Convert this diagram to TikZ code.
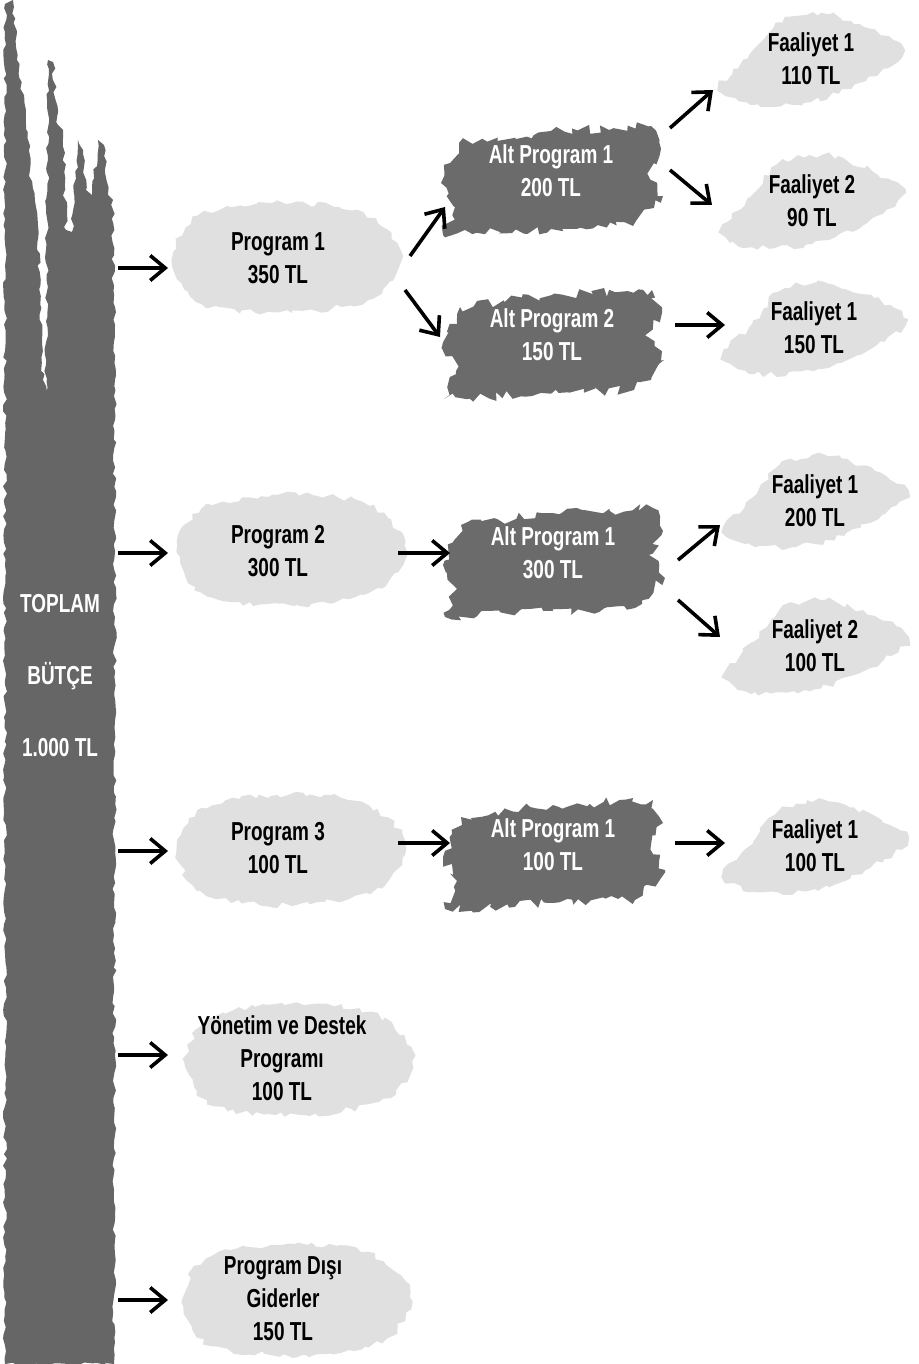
\documentclass[tikz,border=0pt]{standalone}
\usepackage{fontspec}
\setmainfont{Liberation Sans}[FakeStretch=0.73,UprightFont=* Bold]
\usetikzlibrary{arrows.meta,decorations.pathmorphing,calc,backgrounds}
\pgfmathsetseed{7}
\tikzset{
  lbl/.style={align=center,inner sep=0pt,text=black,font=\fontsize{13}{16.5}\selectfont},
  wlbl/.style={lbl,text=white},
  arr/.style={line width=1.8pt,-{Straight Barb[length=7.5pt,width=12.5pt]}},
  lightblob/.style={fill=black!12,decorate,decoration={random steps,segment length=3pt,amplitude=1.5pt}},
  darkblob/.style={fill=black!58,decorate,decoration={random steps,segment length=3pt,amplitude=2.5pt}},
  colblob/.style={fill=black!60,decorate,decoration={random steps,segment length=3pt,amplitude=1pt}}
}
\newcommand\softblob[1]{%
  \begin{scope}[shift={(#1)}]
    \fill[lightblob] plot[smooth cycle] coordinates {(-110,2) (-85,-42) (-10,-55) (75,-48) (118,-8) (95,38) (10,55) (-80,46)};
  \end{scope}}
\newcommand\leafblob[1]{%
  \begin{scope}[shift={(#1)}]
    \fill[lightblob] plot[smooth cycle] coordinates {(-92,30) (-62,-4) (-35,-36) (10,-46) (60,-30) (93,-8) (55,22) (0,43) (-60,46)};
  \end{scope}}
\newcommand\brushblob[1]{%
  \begin{scope}[shift={(#1)}]
    \fill[darkblob] (-92,-28) -- (0,-40) -- (100,-45) -- (110,-22) -- (96,2) -- (112,25) -- (82,55) -- (0,58) -- (-108,64) -- (-96,36) -- (-110,12) -- cycle;
  \end{scope}}
\begin{document}
\begin{tikzpicture}[x=0.5pt,y=-0.5pt]
\useasboundingbox (0,0) rectangle (918,1364);

% left column
\fill[colblob] (5,1364) -- (5,4) -- (13,0) -- (17,60) -- (26,110) -- (30,170) -- (38,225) -- (43,380) -- (46,395)
  -- (48,60) -- (53,62) -- (58,125) -- (63,130) -- (66,230) -- (72,232) -- (78,140) -- (83,150) -- (86,190)
  -- (92,195) -- (98,140) -- (104,145) -- (108,195) -- (113,200) -- (115,420) -- (114,1364) -- cycle;

% nodes
\node[wlbl,minimum width=55pt,font=\fontsize{13}{36}\selectfont] (total) at (60,676) {TOPLAM\\BÜTÇE\\1.000 TL};

\node[lbl] (p1) at (278,258) {Program 1\\350 TL};
\node[lbl] (p2) at (278,551) {Program 2\\300 TL};
\node[lbl] (p3) at (278,848) {Program 3\\100 TL};
\node[lbl] (yon) at (282,1058) {Yönetim ve Destek\\Programı\\100 TL};
\node[lbl] (pd) at (283,1299) {Program Dışı\\Giderler\\150 TL};

\node[wlbl] (a11) at (551,171) {Alt Program 1\\200 TL};
\node[wlbl] (a12) at (552,335) {Alt Program 2\\150 TL};
\node[wlbl] (a21) at (553,553) {Alt Program 1\\300 TL};
\node[wlbl] (a31) at (553,845) {Alt Program 1\\100 TL};

\node[lbl] (f1) at (811,59) {Faaliyet 1\\110 TL};
\node[lbl] (f2) at (812,201) {Faaliyet 2\\90 TL};
\node[lbl] (f3) at (814,328) {Faaliyet 1\\150 TL};
\node[lbl] (f4) at (815,501) {Faaliyet 1\\200 TL};
\node[lbl] (f5) at (815,646) {Faaliyet 2\\100 TL};
\node[lbl] (f6) at (815,846) {Faaliyet 1\\100 TL};

% background blobs
\begin{scope}[on background layer]
  \softblob{282,258}
  \softblob{287,550}
  \softblob{287,850}
  \softblob{295,1060}
  \softblob{292,1300}
  \brushblob{a11}
  \brushblob{a12}
  \brushblob{a21}
  \brushblob{a31}
  \leafblob{f1}
  \leafblob{f2}
  \leafblob{f3}
  \leafblob{f4}
  \leafblob{f5}
  \leafblob{f6}
\end{scope}

% connectors from the total column
\draw[arr] ($(total.east |- p1)+(3,10)$) -- ($(p1.center)+(-110,10)$);
\draw[arr] ($(total.east |- p2)+(3,2)$) -- ($(p2.center)+(-110,2)$);
\draw[arr] ($(total.east |- p3)+(3,3)$) -- ($(p3.center)+(-110,3)$);
\draw[arr] ($(total.east |- yon)+(3,-3)$) -- ($(yon.center)+(-114,-3)$);
\draw[arr] ($(total.east |- pd)+(3,1)$) -- ($(pd.center)+(-115,1)$);

% program -> alt program
\draw[arr] ($(p1.center)+(132,-2)$) -- ($(a11.center)+(-106,36)$);
\draw[arr] ($(p1.center)+(127,32)$) -- ($(a12.center)+(-112,2)$);
\draw[arr] ($(p2.center)+(120,2)$) -- ($(a21.center)+(-103,0)$);
\draw[arr] ($(p3.center)+(120,-5)$) -- ($(a31.center)+(-103,-2)$);

% alt program -> faaliyet
\draw[arr] ($(a11.center)+(119,-43)$) -- ($(f1.center)+(-98,31)$);
\draw[arr] ($(a11.center)+(119,-1)$) -- ($(f2.center)+(-100,4)$);
\draw[arr] ($(a12.center)+(123,-10)$) -- ($(f3.center)+(-89,-3)$);
\draw[arr] ($(a21.center)+(125,7)$) -- ($(f4.center)+(-95,24)$);
\draw[arr] ($(a21.center)+(125,47)$) -- ($(f5.center)+(-95,-9)$);
\draw[arr] ($(a31.center)+(122,-2)$) -- ($(f6.center)+(-90,-3)$);
\end{tikzpicture}
\end{document}
